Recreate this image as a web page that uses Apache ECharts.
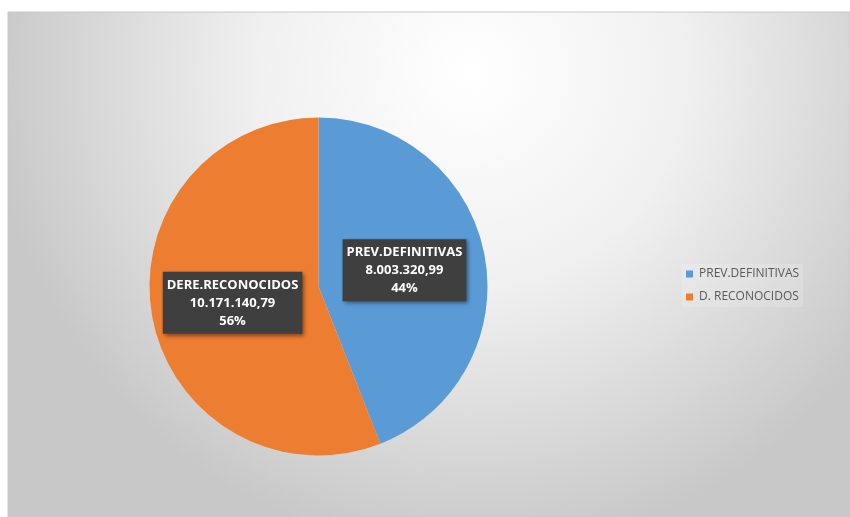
<!DOCTYPE html>
<html>
<head>
<meta charset="utf-8">
<script src="https://cdn.jsdelivr.net/npm/echarts@6/dist/echarts.min.js"></script>
<style>
  html, body { margin: 0; padding: 0; background: #ffffff; }
  #chart { width: 850px; height: 517px; }
</style>
</head>
<body>
<div id="chart"></div>
<script>
// Budget figures: forecast vs recognised rights
const sliceNames = ['PREV.DEFINITIVAS', 'DERE.RECONOCIDOS'];
const legendNames = ['PREV.DEFINITIVAS', 'D. RECONOCIDOS'];
const sliceValues = [8003320.99, 10171140.79];
const sliceColors = ['#5B9BD5', '#ED7D31'];

// Spanish number style: 10.171.140,79
function formatEs(v) {
  const parts = v.toFixed(2).split('.');
  const intPart = parts[0].replace(/\B(?=(\d{3})+(?!\d))/g, '.');
  return intPart + ',' + parts[1];
}

const total = sliceValues.reduce((a, b) => a + b, 0);

const chart = echarts.init(document.getElementById('chart'), null, { renderer: 'canvas' });

const seriesData = sliceValues.map((v, i) => ({
  name: legendNames[i],
  value: v,
  labelText: sliceNames[i],
  itemStyle: { color: sliceColors[i] }
}));

chart.setOption({
  animation: false,
  backgroundColor: '#ffffff',
  graphic: [{
    type: 'rect',
    z: -10,
    shape: { x: 8, y: 12, width: 842, height: 505 },
    style: {
      fill: {
        type: 'radial', x: 0.55, y: 0.12, r: 0.95,
        colorStops: [
          { offset: 0, color: '#ffffff' },
          { offset: 0.45, color: '#f0f0f0' },
          { offset: 1, color: '#c8c8c8' }
        ]
      },
      stroke: '#c8c8c8',
      lineWidth: 1
    }
  }],
  legend: {
    orient: 'vertical',
    left: 682,
    top: 264,
    itemWidth: 7,
    itemHeight: 7,
    itemGap: 11,
    icon: 'rect',
    padding: [4, 4],
    backgroundColor: 'rgba(255,255,255,0.15)',
    textStyle: { color: '#595959', fontSize: 12, fontFamily: 'Open Sans', padding: [0, 0, 0, 1] },
    data: legendNames
  },
  series: [{
    type: 'pie',
    center: [318.5, 286.5],
    radius: [0, 169],
    startAngle: 90,
    clockwise: true,
    avoidLabelOverlap: false,
    itemStyle: { borderWidth: 0 },
    emphasis: { disabled: true },
    label: {
      show: true,
      position: 'inside',
      formatter: function (p) {
        const pct = Math.round(p.value / total * 100);
        return p.data.labelText + '\n' + formatEs(p.value) + '\n' + pct + '%';
      },
      color: '#ffffff',
      fontWeight: 'bold',
      fontSize: 13,
      fontFamily: 'Open Sans',
      lineHeight: 18,
      align: 'center',
      backgroundColor: '#3f3f3f',
      padding: [4, 4, 4, 4],
      shadowColor: 'rgba(0,0,0,0.45)',
      shadowBlur: 4,
      shadowOffsetX: 2,
      shadowOffsetY: 2
    },
    labelLine: { show: false },
    data: seriesData
  }]
});
</script>
</body>
</html>
